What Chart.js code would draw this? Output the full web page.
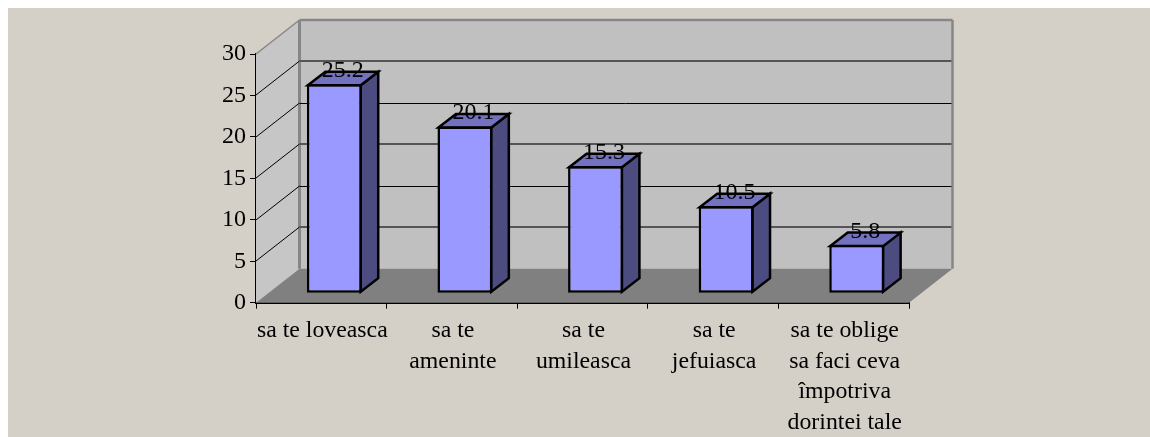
<!DOCTYPE html>
<html>
<head>
<meta charset="utf-8">
<style>
  html, body { margin: 0; padding: 0; background: #fff; overflow: hidden; }
  #wrap { position: absolute; left: 8px; top: 8px; width: 1142px; height: 429px; background: #d4d0c8; }
</style>
<script src="https://cdn.jsdelivr.net/npm/chart.js@4"></script>
</head>
<body>
<div id="wrap"><canvas id="chart" width="1142" height="429"></canvas></div>
<script>
const categories = [
  "sa te loveasca",
  ["sa te", "ameninte"],
  ["sa te", "umileasca"],
  ["sa te", "jefuiasca"],
  ["sa te oblige", "sa faci ceva", "împotriva", "dorintei tale"],
];
const values = [25.2, 20.1, 15.3, 10.5, 5.8];

// pseudo 3D look of the old excel chart
const DEPTH_X = 43.5;
const DEPTH_Y = -34;
const GAP_X = 13;
const GAP_Y = -9.5;
const BAR_DX = 17.5;
const BAR_DY = -13.5;

function poly(ctx, pts, fill, stroke, lw) {
  ctx.beginPath();
  pts.forEach(function (p, i) {
    if (i === 0) ctx.moveTo(p[0], p[1]);
    else ctx.lineTo(p[0], p[1]);
  });
  ctx.closePath();
  if (fill) {
    ctx.fillStyle = fill;
    ctx.fill();
  }
  if (stroke) {
    ctx.strokeStyle = stroke;
    ctx.lineWidth = lw;
    ctx.lineJoin = "miter";
    ctx.stroke();
  }
}

function line(ctx, x1, y1, x2, y2, color, lw) {
  ctx.beginPath();
  ctx.moveTo(x1, y1);
  ctx.lineTo(x2, y2);
  ctx.strokeStyle = color;
  ctx.lineWidth = lw;
  ctx.stroke();
}

const walls = {
  id: "walls",
  beforeDatasetsDraw: function (chart) {
    const ctx = chart.ctx;
    const a = chart.chartArea;
    const yScale = chart.scales.y;
    const gray = "#868686";
    ctx.save();
    // left wall, back wall, floor
    poly(ctx, [[a.left, a.top], [a.left + DEPTH_X, a.top + DEPTH_Y], [a.left + DEPTH_X, a.bottom + DEPTH_Y], [a.left, a.bottom]], "#c6c6c6");
    poly(ctx, [[a.left + DEPTH_X, a.top + DEPTH_Y], [a.right + DEPTH_X, a.top + DEPTH_Y], [a.right + DEPTH_X, a.bottom + DEPTH_Y], [a.left + DEPTH_X, a.bottom + DEPTH_Y]], "#c0c0c0");
    poly(ctx, [[a.left, a.bottom], [a.right, a.bottom], [a.right + DEPTH_X, a.bottom + DEPTH_Y], [a.left + DEPTH_X, a.bottom + DEPTH_Y]], "#808080");
    // wall edges
    line(ctx, a.left, a.top, a.left + DEPTH_X, a.top + DEPTH_Y, gray, 1.5);
    line(ctx, a.left + DEPTH_X, a.top + DEPTH_Y, a.left + DEPTH_X, a.bottom + DEPTH_Y, gray, 3);
    line(ctx, a.left + DEPTH_X, a.top + DEPTH_Y, a.right + DEPTH_X, a.top + DEPTH_Y, gray, 2.5);
    line(ctx, a.right + DEPTH_X, a.top + DEPTH_Y, a.right + DEPTH_X, a.bottom + DEPTH_Y, gray, 2.5);
    // grid lines, the scaled original makes every other one thin and black
    yScale.ticks.forEach(function (t) {
      if (t.value === 0 || t.value === yScale.max) return;
      const y = Math.round(yScale.getPixelForValue(t.value) + DEPTH_Y);
      const thin = t.value % 10 === 0;
      line(ctx, a.left, y - DEPTH_Y, a.left + DEPTH_X, y, "#000", 1);
      line(ctx, a.left + DEPTH_X, thin ? y + 0.5 : y, a.right + DEPTH_X - 1, thin ? y + 0.5 : y, thin ? "#000" : "#555", thin ? 1 : 2);
    });
    // side and top of each bar
    chart.getDatasetMeta(0).data.forEach(function (bar) {
      const l = bar.x - bar.width / 2 + GAP_X + 1;
      const r = bar.x + bar.width / 2 + GAP_X - 1;
      const t = bar.y + GAP_Y + 1;
      const b = bar.base + GAP_Y - 1;
      poly(ctx, [[r, t], [r + BAR_DX, t + BAR_DY], [r + BAR_DX, b + BAR_DY], [r, b]], "#4c4c80", "#000", 2.5);
      poly(ctx, [[l, t], [r, t], [r + BAR_DX, t + BAR_DY], [l + BAR_DX, t + BAR_DY]], "#7272c0", "#000", 2.5);
    });
    ctx.restore();
  },
  beforeDatasetDraw: function (chart) {
    chart.ctx.save();
    chart.ctx.translate(GAP_X, GAP_Y);
  },
  afterDatasetDraw: function (chart) {
    chart.ctx.restore();
  },
  afterDatasetsDraw: function (chart) {
    const ctx = chart.ctx;
    ctx.save();
    ctx.fillStyle = "#000";
    ctx.font = "24px 'Liberation Serif'";
    ctx.textAlign = "center";
    ctx.textBaseline = "middle";
    chart.getDatasetMeta(0).data.forEach(function (bar, i) {
      ctx.fillText(values[i].toFixed(1), bar.x + GAP_X + 8.5, bar.y + GAP_Y - 13.5);
    });
    ctx.restore();
  },
};

new Chart(document.getElementById("chart"), {
  type: "bar",
  data: {
    labels: categories,
    datasets: [
      {
        data: values,
        backgroundColor: "#9999ff",
        borderColor: "#000",
        borderWidth: 2.5,
        borderSkipped: false,
        barPercentage: 0.42,
        categoryPercentage: 1,
      },
    ],
  },
  options: {
    responsive: false,
    animation: false,
    layout: {
      autoPadding: false,
      padding: { top: 46, right: 241, left: 0, bottom: 0 },
    },
    scales: {
      x: {
        afterFit: function (scale) {
          scale.height = 134.3;
        },
        grid: { drawOnChartArea: false, color: "#000", tickLength: 6, lineWidth: 1 },
        border: { color: "#000", width: 2 },
        ticks: {
          maxRotation: 0,
          autoSkip: false,
          padding: 7,
          labelOffset: 1,
          color: "#000",
          font: { family: "'Liberation Serif'", size: 23.8, lineHeight: 1.28 },
        },
      },
      y: {
        min: 0,
        max: 30,
        afterFit: function (scale) {
          scale.width = 248;
        },
        grid: { drawOnChartArea: false, color: "#000", tickLength: 6, lineWidth: 1 },
        border: { color: "#000", width: 1.5 },
        ticks: {
          stepSize: 5,
          padding: 4,
          color: "#000",
          font: { family: "'Liberation Serif'", size: 24 },
        },
      },
    },
    plugins: {
      legend: { display: false },
      tooltip: { enabled: false },
    },
  },
  plugins: [walls],
});
</script>
</body>
</html>
